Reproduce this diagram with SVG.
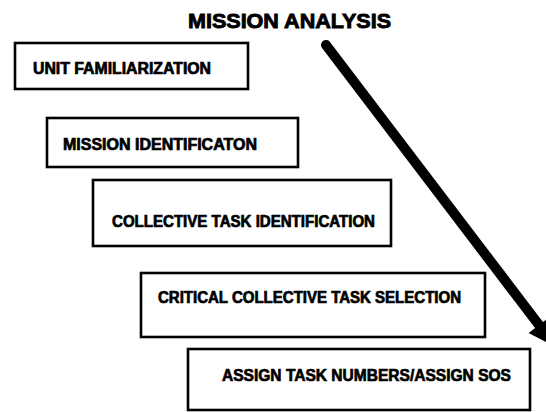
<svg xmlns="http://www.w3.org/2000/svg" width="546" height="412" viewBox="0 0 546 412">
<style>
.box{fill:#fff;stroke:#000;stroke-width:2.6}
.lbl{font-family:"Liberation Sans",Arial,sans-serif;font-weight:bold;font-size:16px;fill:#000;stroke:#000;stroke-width:0.7}
.title{font-family:"Liberation Sans",Arial,sans-serif;font-weight:bold;font-size:21px;fill:#000;stroke:#000;stroke-width:0.9}
</style>
<rect width="546" height="412" fill="#fff"/>
<g id="title">
<text class="title" x="188" y="28" textLength="203" lengthAdjust="spacingAndGlyphs">MISSION ANALYSIS</text>
</g>
<g id="node-unit-familiarization">
<rect class="box" x="15" y="43" width="233" height="46"/>
<text class="lbl" x="33" y="74" textLength="178" lengthAdjust="spacingAndGlyphs">UNIT FAMILIARIZATION</text>
</g>
<g id="node-mission-identification">
<rect class="box" x="47" y="118" width="251" height="49"/>
<text class="lbl" x="63" y="150" textLength="194" lengthAdjust="spacingAndGlyphs">MISSION IDENTIFICATON</text>
</g>
<g id="node-collective-task-identification">
<rect class="box" x="93" y="180" width="298" height="66"/>
<text class="lbl" x="112" y="227" textLength="263" lengthAdjust="spacingAndGlyphs">COLLECTIVE TASK IDENTIFICATION</text>
</g>
<g id="node-critical-collective-task-selection">
<rect class="box" x="141" y="273" width="344" height="64"/>
<text class="lbl" x="158" y="303" textLength="303" lengthAdjust="spacingAndGlyphs">CRITICAL COLLECTIVE TASK SELECTION</text>
</g>
<g id="node-assign-task-numbers">
<rect class="box" x="188" y="349" width="342" height="61"/>
<text class="lbl" x="222" y="381" textLength="289" lengthAdjust="spacingAndGlyphs" style="font-size:17px">ASSIGN TASK NUMBERS/ASSIGN SOS</text>
</g>
<g id="connectors">
<line x1="326" y1="45" x2="539" y2="325" stroke="#000" stroke-width="10" stroke-linecap="round"/>
<polygon points="549.4,317.2 528.6,332.9 556,347.3" fill="#000"/>
</g>
</svg>
